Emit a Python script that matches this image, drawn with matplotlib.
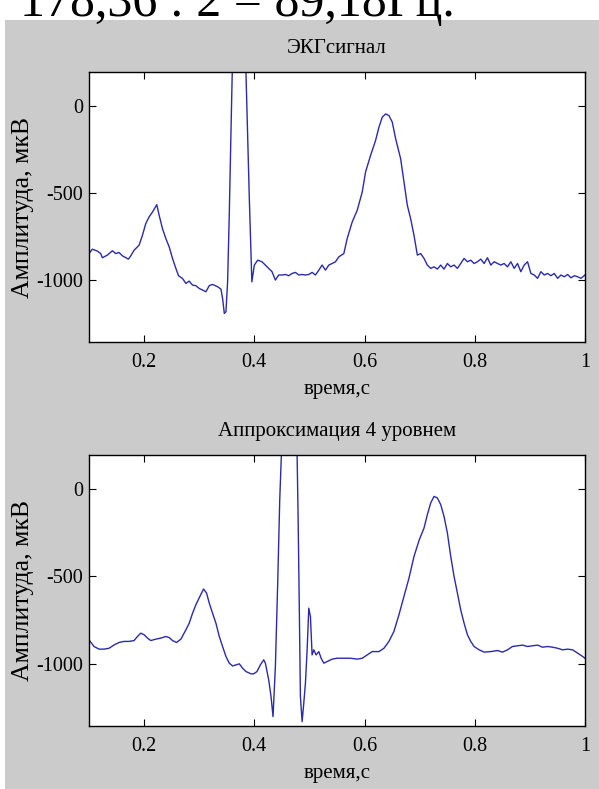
import matplotlib
matplotlib.use("Agg")
import matplotlib.pyplot as plt
from matplotlib.patches import Rectangle

plt.rcParams['font.family'] = ['Liberation Serif', 'DejaVu Serif']
plt.rcParams['axes.unicode_minus'] = False

# ЭКГ сигнал (время, с / амплитуда, мкВ)
ecg_t = [0.1000, 0.1061, 0.1152, 0.1212, 0.1242, 0.1333, 0.1424, 0.1485, 0.1545, 0.1606,
         0.1667, 0.1715, 0.1758, 0.1818, 0.1909, 0.1970, 0.2030, 0.2091, 0.2152, 0.2230,
         0.2273, 0.2333, 0.2394, 0.2455, 0.2515, 0.2576, 0.2624, 0.2697, 0.2758, 0.2818,
         0.2879, 0.2939, 0.3000, 0.3061, 0.3121, 0.3182, 0.3242, 0.3333, 0.3394, 0.3424,
         0.3455, 0.3485, 0.3515, 0.3545, 0.3576, 0.3715, 0.3848, 0.3909, 0.3955, 0.4000,
         0.4061, 0.4139, 0.4200, 0.4261, 0.4321, 0.4382, 0.4442, 0.4503, 0.4564, 0.4624,
         0.4685, 0.4745, 0.4806, 0.4867, 0.4927, 0.4988, 0.5048, 0.5109, 0.5170, 0.5230,
         0.5291, 0.5352, 0.5412, 0.5473, 0.5533, 0.5624, 0.5685, 0.5776, 0.5867, 0.5958,
         0.6018, 0.6109, 0.6200, 0.6261, 0.6321, 0.6382, 0.6442, 0.6503, 0.6564, 0.6655,
         0.6715, 0.6776, 0.6836, 0.6897, 0.6958, 0.7018, 0.7079, 0.7139, 0.7200, 0.7261,
         0.7321, 0.7382, 0.7442, 0.7503, 0.7564, 0.7624, 0.7685, 0.7745, 0.7806, 0.7867,
         0.7927, 0.7988, 0.8048, 0.8109, 0.8170, 0.8230, 0.8291, 0.8352, 0.8412, 0.8473,
         0.8533, 0.8594, 0.8655, 0.8715, 0.8776, 0.8836, 0.8897, 0.8958, 0.9018, 0.9079,
         0.9139, 0.9200, 0.9261, 0.9321, 0.9382, 0.9442, 0.9503, 0.9564, 0.9624, 0.9685,
         0.9745, 0.9806, 0.9867, 0.9927, 1.0000]
ecg_v = [-848, -823, -834, -848, -872, -857, -832, -848, -842, -861,
         -872, -880, -861, -829, -800, -743, -676, -638, -610, -568,
         -629, -705, -762, -810, -876, -933, -975, -991, -1019, -1006,
         -1029, -1032, -1048, -1057, -1067, -1032, -1025, -1038, -1052, -1105,
         -1191, -1181, -1010, -629, -152, 1900, 190, -533, -1010, -914,
         -886, -895, -914, -933, -952, -1000, -971, -971, -968, -975,
         -962, -956, -971, -968, -971, -968, -956, -971, -943, -914,
         -943, -914, -905, -895, -867, -848, -762, -667, -600, -495,
         -381, -286, -200, -124, -67, -48, -57, -95, -190, -305,
         -438, -571, -648, -743, -857, -848, -876, -914, -933, -924,
         -937, -914, -937, -905, -924, -914, -933, -905, -876, -895,
         -886, -905, -895, -880, -905, -872, -914, -895, -905, -914,
         -905, -924, -895, -933, -905, -952, -914, -895, -962, -971,
         -990, -952, -971, -962, -975, -962, -990, -971, -981, -968,
         -987, -975, -981, -990, -971]

# аппроксимация 4 уровнем
approx_t = [0.1000, 0.1091, 0.1182, 0.1273, 0.1364, 0.1455, 0.1545, 0.1636, 0.1727, 0.1818,
            0.1879, 0.1939, 0.2000, 0.2061, 0.2121, 0.2212, 0.2303, 0.2394, 0.2455, 0.2515,
            0.2588, 0.2667, 0.2758, 0.2818, 0.2879, 0.2939, 0.3012, 0.3079, 0.3133, 0.3182,
            0.3242, 0.3303, 0.3364, 0.3424, 0.3485, 0.3545, 0.3606, 0.3667, 0.3727, 0.3788,
            0.3848, 0.3939, 0.3988, 0.4048, 0.4109, 0.4170, 0.4200, 0.4261, 0.4303, 0.4339,
            0.4382, 0.4424, 0.4461, 0.4491, 0.4624, 0.4776, 0.4794, 0.4818, 0.4836, 0.4867,
            0.4897, 0.4927, 0.4958, 0.4988, 0.5018, 0.5048, 0.5079, 0.5121, 0.5170, 0.5212,
            0.5261, 0.5321, 0.5412, 0.5503, 0.5624, 0.5745, 0.5867, 0.5958, 0.6048, 0.6139,
            0.6261, 0.6352, 0.6442, 0.6533, 0.6624, 0.6715, 0.6806, 0.6897, 0.6994, 0.7079,
            0.7139, 0.7200, 0.7261, 0.7321, 0.7382, 0.7442, 0.7503, 0.7564, 0.7624, 0.7685,
            0.7745, 0.7806, 0.7867, 0.7927, 0.7988, 0.8079, 0.8170, 0.8291, 0.8412, 0.8503,
            0.8594, 0.8685, 0.8776, 0.8867, 0.8958, 0.9048, 0.9139, 0.9230, 0.9321, 0.9412,
            0.9503, 0.9594, 0.9685, 0.9776, 0.9867, 0.9958, 1.0000]
approx_v = [-863, -901, -916, -916, -911, -892, -878, -872, -872, -867,
            -844, -825, -834, -853, -867, -859, -853, -844, -850, -867,
            -878, -859, -806, -768, -711, -663, -615, -573, -596, -653,
            -711, -768, -844, -901, -958, -996, -1012, -1006, -1000, -1025,
            -1044, -1057, -1057, -1044, -1006, -977, -996, -1092, -1187, -1301,
            -1015, -539, -63, 194, 2000, 194, -158, -730, -1187, -1330,
            -1225, -1111, -920, -682, -730, -949, -920, -949, -930, -968,
            -996, -987, -973, -968, -968, -968, -973, -968, -949, -930,
            -930, -911, -872, -815, -720, -615, -511, -387, -291, -225,
            -149, -82, -44, -53, -91, -158, -253, -387, -501, -596,
            -692, -768, -834, -872, -901, -920, -933, -930, -924, -933,
            -920, -901, -897, -893, -901, -897, -893, -905, -901, -905,
            -911, -920, -916, -920, -939, -958, -968]

x_ticks = [0.2, 0.4, 0.6, 0.8, 1.0]
x_tick_labels = ["0.2", "0.4", "0.6", "0.8", "1"]
y_ticks = [-1000, -500, 0]
y_tick_labels = ["-1000", "-500", "0"]

line_color = '#2a2ab0'
gray = '#cbcbcb'

fig = plt.figure(figsize=(5.99, 7.89), dpi=100)
fig.patch.set_facecolor('white')
# серая подложка окна matlab
fig.patches.append(Rectangle((5 / 599, 0), 1, 1 - 20 / 789, transform=fig.transFigure,
                             facecolor=gray, edgecolor='none', zorder=-5))

# обрезанная строка слайда сверху
fig.text(20 / 599, 1 - 16 / 789, "178,36 : 2 = 89,18Гц.", fontsize=36,
         va='baseline', ha='left')

panels = [
    ([0.1486, 0.5665, 0.828, 0.3422], ecg_t, ecg_v, "ЭКГсигнал"),
    ([0.1486, 0.0798, 0.828, 0.3435], approx_t, approx_v, "Аппроксимация 4 уровнем"),
]

for rect, t, v, title in panels:
    ax = fig.add_axes(rect)
    ax.plot(t, v, color=line_color, lw=1.0)
    ax.set_xlim(0.1, 1.0)
    ax.set_ylim(-1355, 192)
    ax.set_xticks(x_ticks)
    ax.set_xticklabels(x_tick_labels)
    ax.set_yticks(y_ticks)
    ax.set_yticklabels(y_tick_labels)
    ax.tick_params(direction='in', top=True, right=True, length=5, width=0.8,
                   labelsize=14.5, color='black')
    ax.tick_params(axis='x', pad=8)
    ax.tick_params(axis='y', pad=4)
    for s in ax.spines.values():
        s.set_linewidth(1.0)
    ax.set_title(title, fontsize=15, pad=14)
    ax.set_xlabel("время,с", fontsize=15, labelpad=6)
    ax.set_ylabel("Амплитуда, мкВ", fontsize=18.5, labelpad=2)

plt.savefig("out.png", dpi=100, facecolor=fig.get_facecolor())
